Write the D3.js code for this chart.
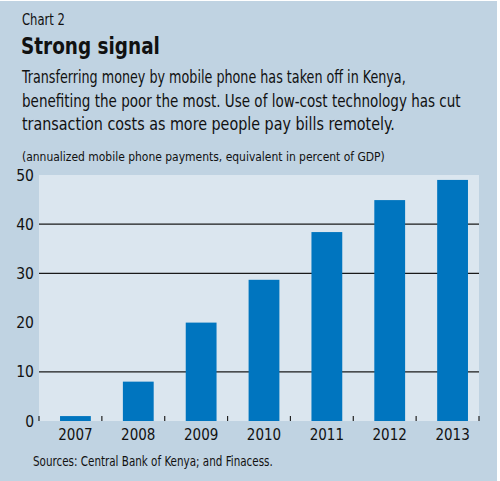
<!DOCTYPE html>
<html>
<head>
<meta charset="utf-8">
<script src="https://cdn.jsdelivr.net/npm/d3@7"></script>
<style>
  body { margin: 0; background: #fff; }
  svg text { font-family: "Liberation Sans Narrow", "DejaVu Sans Condensed", "Roboto", sans-serif; fill: #111; }
</style>
</head>
<body>
<div id="chart"></div>
<script>
// Chart data
const years = ['2007', '2008', '2009', '2010', '2011', '2012', '2013'];
const payments = [1.0, 8.0, 20.0, 28.7, 38.4, 44.9, 49.0];
const yTicks = [0, 10, 20, 30, 40, 50];
const gridValues = [10, 30, 40];

const subtitle = [
    'Transferring money by mobile phone has taken off in Kenya,',
    'benefiting the poor the most. Use of low-cost technology has cut',
    'transaction costs as more people pay bills remotely.'
];

const width = 500, height = 481;
const plot = { left: 39, right: 479, top: 175, bottom: 421 };

const svg = d3.select('#chart').append('svg')
    .attr('width', width)
    .attr('height', height);

// squeeze a text horizontally so it spans the given width
const fitText = (sel, x0, y0, w) => {
    sel.attr('x', 0).attr('y', 0);
    const len = sel.node().getComputedTextLength();
    sel.attr('transform', `translate(${x0},${y0}) scale(${Math.min(1, w / len)},1)`);
};

// panel background
svg.append('rect')
    .attr('x', 0).attr('y', 1)
    .attr('width', 497).attr('height', height - 1)
    .attr('fill', '#c0d3e2');

svg.append('rect')
    .attr('x', plot.left).attr('y', plot.top)
    .attr('width', plot.right - plot.left)
    .attr('height', plot.bottom - plot.top)
    .attr('fill', '#dbe6ef');

// headings
const chartNo = svg.append('text')
    .attr('font-size', 16)
    .text('Chart 2');
fitText(chartNo, 22, 25, 43);

const title = svg.append('text')
    .attr('font-size', 23.5)
    .attr('font-weight', 'bold')
    .style('font-family', '"DejaVu Sans", sans-serif')
    .text('Strong signal');
fitText(title, 21, 54, 139);

const subWidths = [384, 439, 373];
svg.selectAll('.sub')
    .data(subtitle)
    .enter().append('text')
    .attr('class', 'sub')
    .attr('font-size', 18)
    .text(d => d)
    .each(function(d, i) {
        fitText(d3.select(this), 22, 83 + i * 23.5, subWidths[i]);
    });

const unit = svg.append('text')
    .attr('font-size', 13)
    .text('(annualized mobile phone payments, equivalent in percent of GDP)');
fitText(unit, 22, 161, 363);

// scales
const x = d3.scaleBand()
    .domain(years)
    .range([plot.left, plot.right]);

const y = d3.scaleLinear()
    .domain([0, 50])
    .range([plot.bottom, plot.top]);

// gridlines
svg.append('g')
    .selectAll('line')
    .data(gridValues)
    .enter().append('line')
    .attr('x1', plot.left)
    .attr('x2', plot.right)
    .attr('y1', d => y(d))
    .attr('y2', d => y(d))
    .attr('stroke', '#1a1a1a')
    .attr('stroke-width', 1.3);

// bars
const barW = x.step() * 0.49;
svg.append('g')
    .selectAll('rect')
    .data(years)
    .enter().append('rect')
    .attr('x', (d) => x(d) + (x.step() - barW) / 2 + 5)
    .attr('y', (d, i) => y(payments[i]))
    .attr('width', barW)
    .attr('height', (d, i) => y(0) - y(payments[i]))
    .attr('fill', '#0075bf');

// tick marks at slot boundaries
const bounds = years.map(d => x(d)).concat([plot.right]);
svg.append('g')
    .selectAll('line')
    .data(bounds)
    .enter().append('line')
    .attr('x1', d => d).attr('x2', d => d)
    .attr('y1', plot.bottom)
    .attr('y2', plot.bottom - 5)
    .attr('stroke', '#222')
    .attr('stroke-width', 1.2);

// y labels
svg.append('g')
    .selectAll('text')
    .data(yTicks)
    .enter().append('text')
    .attr('x', 34)
    .attr('y', d => y(d) + 5.5)
    .attr('text-anchor', 'end')
    .attr('font-size', 15.5)
    .text(d => d);

// x labels
svg.append('g')
    .selectAll('text')
    .data(years)
    .enter().append('text')
    .attr('x', d => x(d) + x.step() / 2 + 5)
    .attr('y', 440)
    .attr('text-anchor', 'middle')
    .attr('font-size', 15)
    .text(d => d);

const sources = svg.append('text')
    .attr('font-size', 14)
    .text('Sources: Central Bank of Kenya; and Finacess.');
fitText(sources, 33, 466, 240);
</script>
</body>
</html>
